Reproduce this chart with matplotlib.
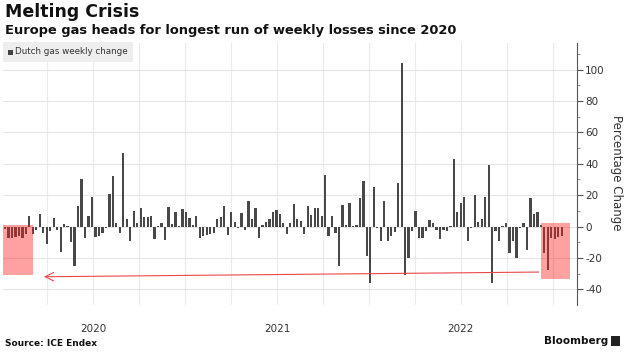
import matplotlib
matplotlib.use("Agg")
import matplotlib.pyplot as plt
from matplotlib.patches import Rectangle

plt.rcParams['font.family'] = ['DejaVu Sans']

# Weekly % change of Dutch TTF gas, first week ~ late Dec 2019
weekly_change = [
    -1.5, -7.5, -7, -6.5, -6, -7.5, -5, 6.5, -4.5, -2,
    8, -4, -11, -3, 5.5, -2.5, -16.5, 1.5, 0.5, -9.7,
    -25, 13, 30, -7, 7, 19, -6.5, -6, -4, -1,
    21, 32, 2, -4.4, 47, 5, -9.5, 10, 2, 12,
    6, 6, 6.5, -8, 0.5, 2.5, -8.5, 12.5, 1.5, 9,
    0.5, 11, 9, 5.5, 1, 6.5, -7, -6, -5.5, -5,
    -4, 4.5, 6, 13, -5.5, 9, 3, -1, 8.5, -2.5,
    16.5, 5, 12, -7, 1, 3, 5, 9, 10.5, 8,
    2, -5, 2, 14.5, 5, 3.5, -5, 13, 7.5, 12,
    12, 7, 33, -6, 7, -4, -25, 14, 1, 15,
    0.5, 1, 18, 29, -18.5, -36, 25, -1, -9, 16,
    -9.5, -6, -3.5, 28, 104, -31, -20, -3, 10, -7,
    -7, -3, 4, 2, -2, -8, -2, -3, 0.5, 43,
    9, 15, 19, -9, -1, 20, 3, 5, 19, 39,
    -36, -3, -9, 0.5, 2, -17, -9, -20, -1, 2,
    -15, 18, 8, 9, 1, -17, -28, -7.5, -8, -6.5,
    -6,
]
weeks = list(range(len(weekly_change)))

year_labels = ["2020", "2021", "2022"]
y_ticks = [-40, -20, 0, 20, 40, 60, 80, 100]

# highlighted losing streaks (week index ranges)
streak_2020 = (-0.5, 8.0)
streak_now = (154.1, 162.4)

W, H = 630, 355
fig = plt.figure(figsize=(W / 100, H / 100), dpi=100)
fig.patch.set_facecolor("white")

left_px, right_px, top_px, bot_px = 3, 576.7, 43, 305
ax = fig.add_axes([left_px / W, 1 - bot_px / H, (right_px - left_px) / W, (bot_px - top_px) / H])
ax.set_xlim(-0.57, 164.3)
ax.set_ylim(-50, 117)

# grid
quarter_lines = [12.2 + 13.2 * k for k in range(12)]
for q in quarter_lines:
    ax.axvline(q, color="#ebebeb", lw=0.8, zorder=0)
for yv in y_ticks:
    ax.axhline(yv, color="#e6e6e6", lw=0.8, zorder=0)

ax.bar(weeks, weekly_change, width=0.65, color="#484848", zorder=2)

# highlight boxes
ax.add_patch(Rectangle((streak_2020[0], -31), streak_2020[1] - streak_2020[0], 32.2,
                       facecolor=(1, 0.12, 0.12), alpha=0.42, edgecolor="none", zorder=3))
ax.add_patch(Rectangle((streak_now[0], -33.4), streak_now[1] - streak_now[0], 35.6,
                       facecolor=(1, 0.12, 0.12), alpha=0.42, edgecolor="none", zorder=3))

# arrow
ax.annotate("", xy=(11.2, -32.0), xytext=(153.4, -29.0),
            arrowprops=dict(arrowstyle="->,head_length=0.6,head_width=0.3",
                            color="#e8484a", lw=0.8, shrinkA=0, shrinkB=0), zorder=4)

# axes styling
for s in ["left", "top", "bottom"]:
    ax.spines[s].set_visible(False)
ax.spines["right"].set_color("#555555")
ax.spines["right"].set_linewidth(0.8)
ax.yaxis.tick_right()
ax.set_yticks(y_ticks)
ax.set_yticklabels([str(v) for v in y_ticks])
ax.set_yticks([v + 10 for v in y_ticks[:-1]] + [110], minor=True)
ax.tick_params(axis="y", which="major", length=4, width=0.8, color="#555555",
               labelsize=7.5, labelcolor="#333333", pad=2)
ax.tick_params(axis="y", which="minor", length=2.5, width=0.6, color="#777777")

ax.set_xticks([quarter_lines[1], quarter_lines[5], quarter_lines[9]])
ax.set_xticklabels(year_labels)
ax.tick_params(axis="x", length=0, labelsize=7.5, labelcolor="#333333", pad=14)
ax.set_facecolor("none")

# titles
fig.text(5 / W, 1 - 3 / H, "Melting Crisis", fontsize=12.5, fontweight="bold",
         color="#111111", va="top", ha="left")
fig.text(5 / W, 1 - 24 / H, "Europe gas heads for longest run of weekly losses since 2020",
         fontsize=9.35, fontweight="bold", color="#111111", va="top", ha="left")

# legend box
fig.patches.append(Rectangle((3 / W, 1 - 62 / H), 130 / W, 20 / H, transform=fig.transFigure,
                             facecolor="#eeeeee", edgecolor="none", zorder=0))
fig.patches.append(Rectangle((8 / W, 1 - 55 / H), 5 / W, 5 / H, transform=fig.transFigure,
                             facecolor="#444444", edgecolor="none", zorder=1))
fig.text(15 / W, 1 - 52 / H, "Dutch gas weekly change", fontsize=6.3, color="#333333",
         va="center", ha="left")

# y label
fig.text(616 / W, 1 - 173 / H, "Percentage Change", rotation=-90, fontsize=8.5,
         color="#333333", va="center", ha="center")

# footer
fig.text(5 / W, 1 - 343 / H, "Source: ICE Endex", fontsize=6.5, fontweight="bold",
         color="#111111", va="center", ha="left")
fig.text(608 / W, 1 - 341 / H, "Bloomberg", fontsize=7.5, fontweight="bold",
         color="#111111", va="center", ha="right")
fig.patches.append(Rectangle((611 / W, 1 - 346 / H), 9 / W, 10 / H, transform=fig.transFigure,
                             facecolor="#222222", edgecolor="none"))

fig.savefig("out.png", dpi=100)
